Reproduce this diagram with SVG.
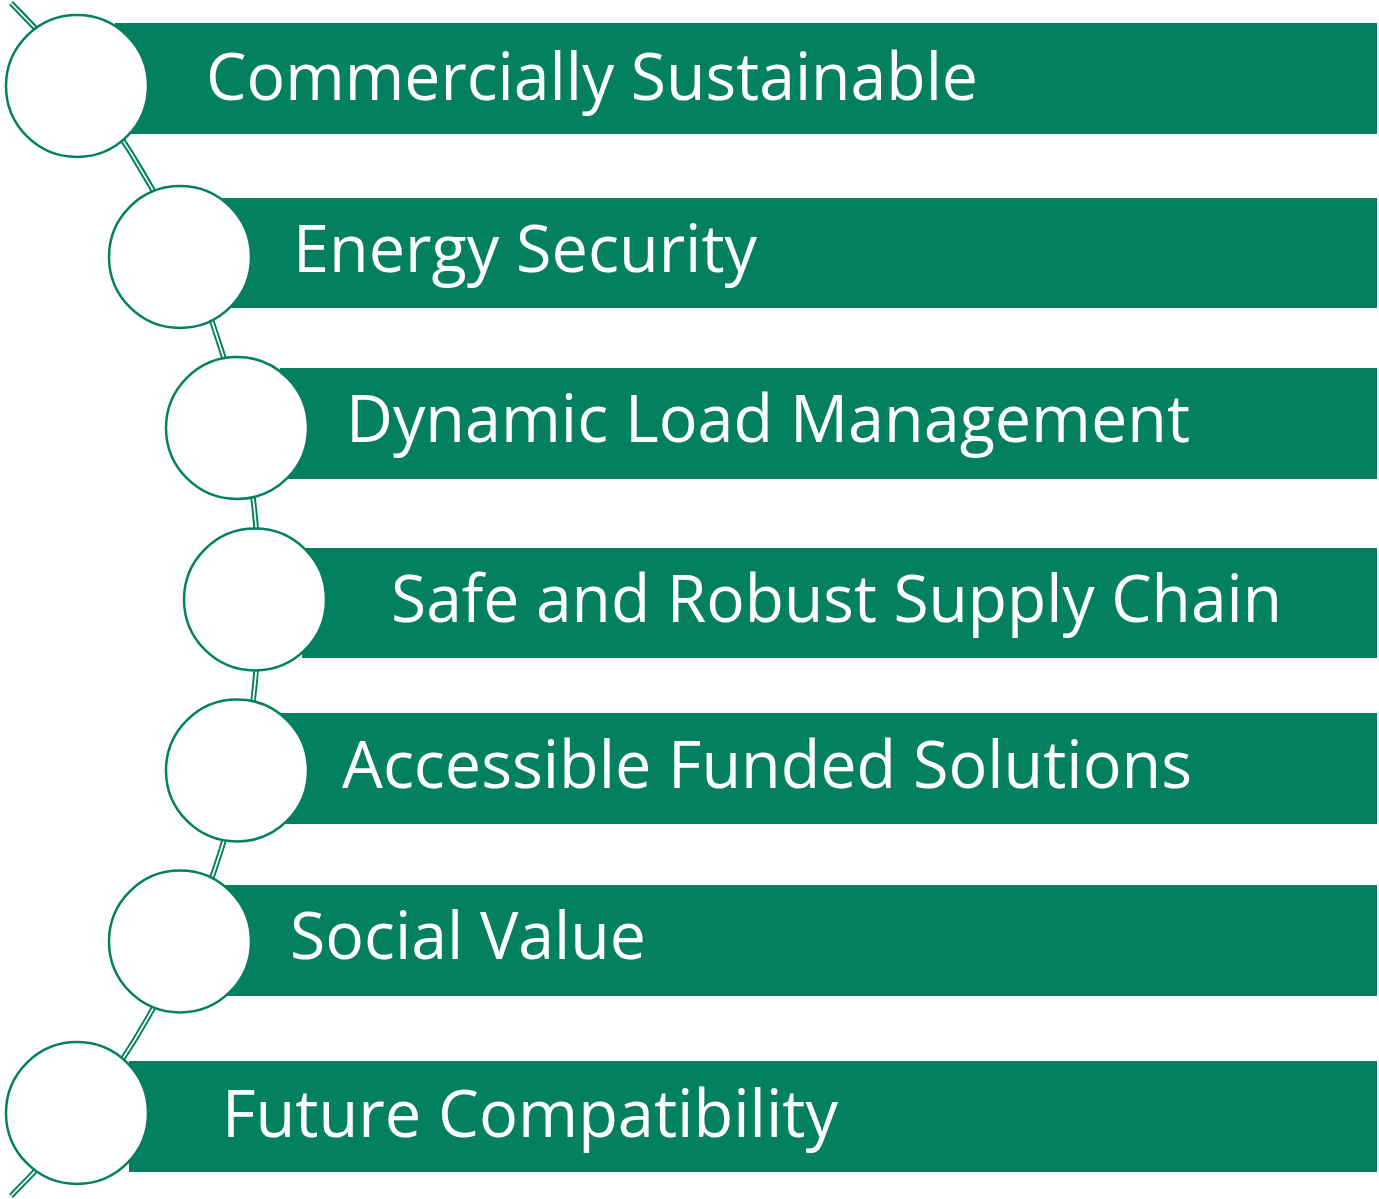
<svg xmlns="http://www.w3.org/2000/svg" width="1379" height="1199" viewBox="0 0 1379 1199">
<style>
.bar{fill:#03805f}
.node circle{fill:#ffffff;stroke:#03805f;stroke-width:2.5}
.lbl{font-family:"Open Sans","Noto Sans",sans-serif;font-size:65px;fill:#ffffff}
.c-outer{fill:none;stroke:#03805f;stroke-width:5.5}
.c-inner{fill:none;stroke:#ffffff;stroke-width:1.7}
</style>
<rect width="1379" height="1199" fill="#ffffff"/>
<g id="connectors">
<path class="c-outer" d="M 11 3 A 841 841 0 0 1 11 1196"/>
<path class="c-inner" d="M 11 3 A 841 841 0 0 1 11 1196"/>
</g>
<g id="node1" class="node">
<rect class="bar" x="115" y="23" width="1262" height="111"/>
<circle cx="77" cy="86" r="71"/>
<text class="lbl" x="206" y="100" textLength="772" lengthAdjust="spacingAndGlyphs">Commercially Sustainable</text>
</g>
<g id="node2" class="node">
<rect class="bar" x="215" y="198" width="1162" height="110"/>
<circle cx="180" cy="257" r="71"/>
<text class="lbl" x="293" y="272" textLength="464" lengthAdjust="spacingAndGlyphs">Energy Security</text>
</g>
<g id="node3" class="node">
<rect class="bar" x="280" y="368" width="1097" height="111"/>
<circle cx="237" cy="428" r="71"/>
<text class="lbl" x="346" y="442" textLength="844" lengthAdjust="spacingAndGlyphs">Dynamic Load Management</text>
</g>
<g id="node4" class="node">
<rect class="bar" x="302" y="548" width="1075" height="110"/>
<circle cx="255" cy="599.5" r="71"/>
<text class="lbl" x="391" y="622" textLength="891" lengthAdjust="spacingAndGlyphs">Safe and Robust Supply Chain</text>
</g>
<g id="node5" class="node">
<rect class="bar" x="280" y="713" width="1097" height="111"/>
<circle cx="237" cy="770.5" r="71"/>
<text class="lbl" x="342" y="788" textLength="850" lengthAdjust="spacingAndGlyphs">Accessible Funded Solutions</text>
</g>
<g id="node6" class="node">
<rect class="bar" x="215" y="885" width="1162" height="111"/>
<circle cx="180" cy="941.5" r="71"/>
<text class="lbl" x="290" y="959" textLength="356" lengthAdjust="spacingAndGlyphs">Social Value</text>
</g>
<g id="node7" class="node">
<rect class="bar" x="129" y="1061" width="1248" height="111"/>
<circle cx="77" cy="1113" r="71"/>
<text class="lbl" x="222" y="1137" textLength="616" lengthAdjust="spacingAndGlyphs">Future Compatibility</text>
</g>
</svg>
